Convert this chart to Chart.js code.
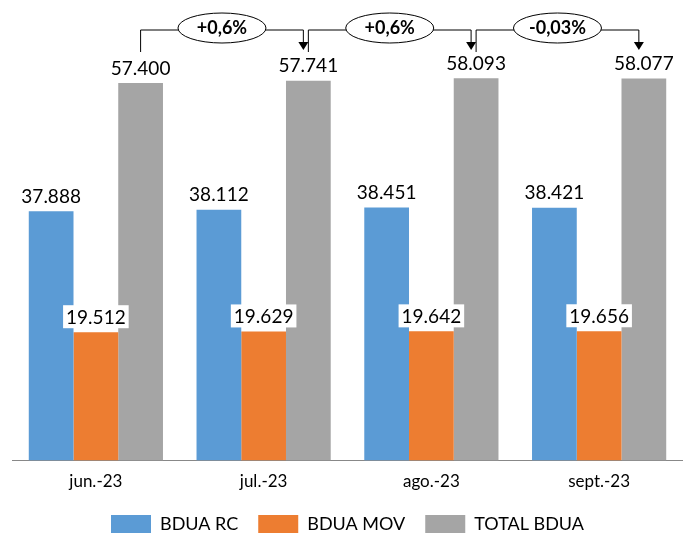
<!DOCTYPE html>
<html>
<head>
<meta charset="utf-8">
<script src="https://cdn.jsdelivr.net/npm/chart.js@4"></script>
<style>
html,body{margin:0;padding:0;background:#fff;}
#wrap{width:683px;height:543px;}
</style>
</head>
<body>
<div id="wrap"><canvas id="myChart" width="683" height="543"></canvas></div>
<script>
//chart data
var months = ["jun.-23", "jul.-23", "ago.-23", "sept.-23"];
var bduaRC = [37888, 38112, 38451, 38421];
var bduaMOV = [19512, 19629, 19642, 19656];
var totalBDUA = [57400, 57741, 58093, 58077];
var changes = ["+0,6%", "+0,6%", "-0,03%"];

function fmt(v){
	return String(v).replace(/\B(?=(\d{3})+(?!\d))/g, ".");
}

//labels over every bar
var labelsPlugin = {
	id: 'labels',
	afterDatasetsDraw: function(chart){
		var ctx = chart.ctx;
		ctx.save();
		ctx.font = '19px Lato, "Open Sans", sans-serif';
		ctx.textAlign = 'center';
		ctx.textBaseline = 'bottom';
		chart.data.datasets.forEach(function(ds, di){
			chart.getDatasetMeta(di).data.forEach(function(bar, i){
				var txt = fmt(ds.data[i]);
				var y = bar.y - 5;
				if(di == 1){
					var w = ctx.measureText(txt).width + 6;
					ctx.fillStyle = '#fff';
					ctx.fillRect(bar.x - w/2, y - 22, w, 23);
				}
				ctx.fillStyle = '#000';
				ctx.fillText(txt, bar.x, y);
			});
		});
		ctx.restore();
	}
};

//brackets with the change between months
var changePlugin = {
	id: 'changes',
	afterDraw: function(chart){
		var ctx = chart.ctx;
		var meta = chart.getDatasetMeta(2).data;
		ctx.save();
		ctx.strokeStyle = '#000';
		ctx.fillStyle = '#000';
		ctx.lineWidth = 1;
		for(var i = 0; i < changes.length; i++){
			var x1 = meta[i].x;
			var x2 = meta[i+1].x - 5;
			var top = 30;
			ctx.beginPath();
			ctx.moveTo(x1, 52);
			ctx.lineTo(x1, top);
			ctx.lineTo(x2, top);
			ctx.lineTo(x2, 43);
			ctx.stroke();
			ctx.beginPath();
			ctx.moveTo(x2 - 5, 42);
			ctx.lineTo(x2 + 5, 42);
			ctx.lineTo(x2, 50);
			ctx.closePath();
			ctx.fill();
			var cx = (x1 + x2) / 2;
			ctx.beginPath();
			ctx.ellipse(cx, 28, 44, 15, 0, 0, Math.PI * 2);
			ctx.fillStyle = '#fff';
			ctx.fill();
			ctx.stroke();
			ctx.fillStyle = '#000';
			ctx.font = 'bold 18px Lato, "Open Sans", sans-serif';
			ctx.textAlign = 'center';
			ctx.textBaseline = 'middle';
			ctx.fillText(changes[i], cx, 28);
		}
		ctx.restore();
	}
};

var ctx = document.getElementById("myChart");
var myBarChart = new Chart(ctx, {
	type: 'bar',
	data: {
		labels: months,
		datasets: [
			{label: "BDUA RC", backgroundColor: '#5B9BD5', data: bduaRC},
			{label: "BDUA MOV", backgroundColor: '#ED7D31', data: bduaMOV},
			{label: "TOTAL BDUA", backgroundColor: '#A5A5A5', data: totalBDUA}
		]
	},
	options: {
		responsive: false,
		animation: false,
		layout: {padding: {left: 12, right: 0, top: 0, bottom: 0}},
		datasets: {bar: {categoryPercentage: 0.8, barPercentage: 1.0}},
		scales: {
			x: {
				grid: {display: false},
				border: {color: '#888'},
				ticks: {color: '#000', font: {size: 17, family: 'Lato, "Open Sans", sans-serif'}}
			},
			y: {display: false, min: 0, max: 70000}
		},
		plugins: {
			tooltip: {enabled: false},
			legend: {
				position: 'bottom',
				labels: {
					color: '#000',
					boxWidth: 40, boxHeight: 18,
					padding: 20,
					font: {size: 18, family: 'Lato, "Open Sans", sans-serif'}
				}
			}
		}
	},
	plugins: [labelsPlugin, changePlugin]
});
</script>
</body>
</html>
